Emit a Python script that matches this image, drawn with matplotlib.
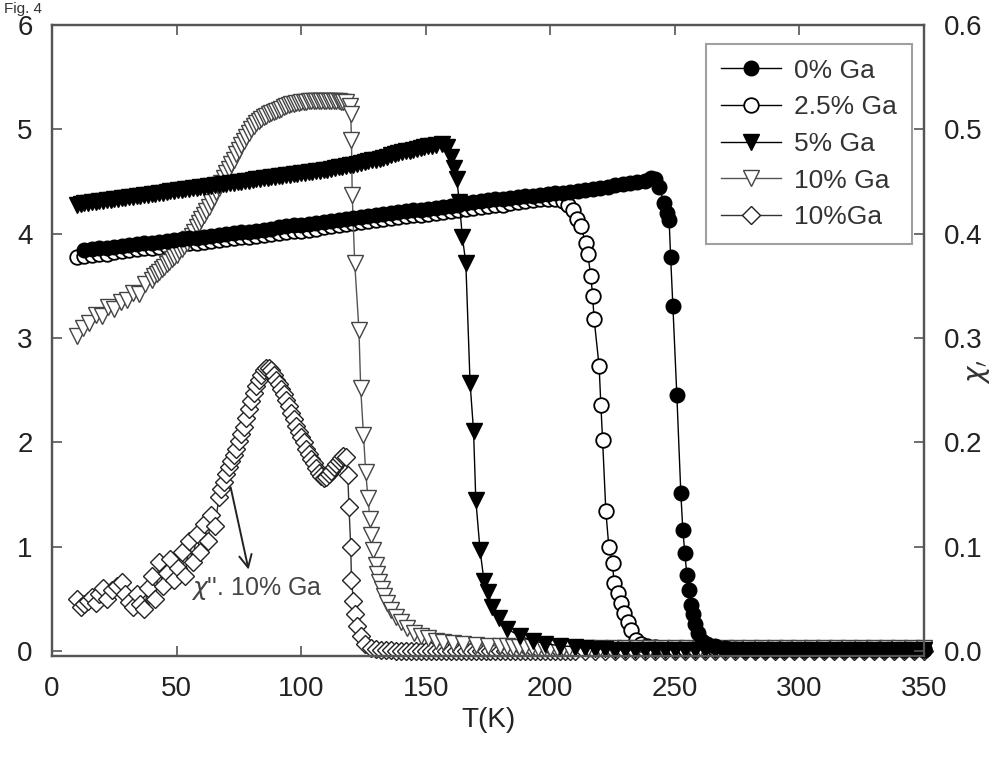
import matplotlib
matplotlib.use("Agg")
import matplotlib.pyplot as plt

plt.rcParams['font.family'] = ['Liberation Sans', 'DejaVu Sans']
plt.rcParams['mathtext.fontset'] = 'dejavusans'

# ---------------- data ----------------
labels = ["0% Ga", "2.5% Ga", "5% Ga", "10% Ga", "10%Ga"]
x_ticks = [0, 50, 100, 150, 200, 250, 300, 350]
y_ticks = [0, 1, 2, 3, 4, 5, 6]
y2_ticks = [0.0, 0.1, 0.2, 0.3, 0.4, 0.5, 0.6]

# 0% Ga
t_0 = [13, 16, 19, 22, 25, 28, 31, 34, 37, 40,
       43, 46, 49, 52, 55, 58, 61, 64, 67, 70,
       73, 76, 79, 82, 85, 88, 91, 94, 97, 100,
       103, 106, 109, 112, 115, 118, 121, 124, 127, 130,
       133, 136, 139, 142, 145, 148, 151, 154, 157, 160,
       163, 166, 169, 172, 175, 178, 181, 184, 187, 190,
       193, 196, 199, 202, 205, 208, 211, 214, 217, 220,
       223, 226, 229, 232, 235, 238,
       240.4, 242, 243.7, 245.7, 246.8, 247.7, 248.3, 249.2, 250.8, 252.4,
       253.2, 254, 254.8, 255.6, 256.4, 257.2, 258, 259.2, 261, 263,
       266, 270, 274, 278, 282, 286, 290, 294, 298, 302,
       306, 310, 314, 318, 322, 326, 330, 334, 338, 342,
       346, 350]
chi_0 = [3.84, 3.85, 3.86, 3.86, 3.87, 3.88, 3.89, 3.90, 3.91, 3.91,
         3.92, 3.93, 3.94, 3.95, 3.96, 3.96, 3.97, 3.98, 3.99, 4.00,
         4.01, 4.02, 4.02, 4.03, 4.04, 4.05, 4.06, 4.07, 4.08, 4.08,
         4.09, 4.10, 4.11, 4.12, 4.13, 4.14, 4.15, 4.16, 4.17, 4.18,
         4.19, 4.20, 4.21, 4.22, 4.23, 4.23, 4.24, 4.25, 4.26, 4.27,
         4.28, 4.29, 4.30, 4.31, 4.32, 4.33, 4.33, 4.34, 4.35, 4.36,
         4.36, 4.37, 4.38, 4.39, 4.39, 4.40, 4.41, 4.42, 4.43, 4.44,
         4.45, 4.47, 4.48, 4.49, 4.50, 4.51,
         4.53, 4.52, 4.45, 4.29, 4.20, 4.13, 3.78, 3.31, 2.45, 1.51,
         1.16, 0.94, 0.73, 0.58, 0.44, 0.35, 0.26, 0.17, 0.10, 0.07,
         0.05, 0.03, 0.02, 0.01, 0.01, 0.01, 0.01, 0.01, 0.01, 0.01,
         0.01, 0.01, 0.01, 0.01, 0.01, 0.01, 0.01, 0.01, 0.01, 0.01,
         0.01, 0.01]

# 2.5% Ga
t_25 = [10, 13, 16, 19, 22, 25, 28, 31, 34, 37,
        40, 43, 46, 49, 52, 55, 58, 61, 64, 67,
        70, 73, 76, 79, 82, 85, 88, 91, 94, 97,
        100, 103, 106, 109, 112, 115, 118, 121, 124, 127,
        130, 133, 136, 139, 142, 145, 148, 151, 154, 157,
        160, 163, 166, 169, 172, 175, 178, 181, 184, 187,
        190, 193, 196, 199,
        202, 205, 207, 209, 210.7, 212.2, 214.3, 215, 216.3, 217,
        217.6, 219.6, 220.3, 221, 222.3, 223.5, 225, 225.6, 227, 228.3,
        229.5, 231, 232.3, 234.3, 236.5, 239,
        242, 246, 250, 254, 258, 262, 266, 270, 274, 278,
        282, 286, 290, 294, 298, 302, 306, 310, 314, 318,
        322, 326, 330, 334, 338, 342, 346, 350]
chi_25 = [3.78, 3.79, 3.80, 3.81, 3.81, 3.82, 3.83, 3.84, 3.85, 3.86,
          3.86, 3.87, 3.88, 3.89, 3.90, 3.91, 3.91, 3.92, 3.93, 3.94,
          3.95, 3.96, 3.97, 3.97, 3.98, 3.99, 4.00, 4.01, 4.02, 4.03,
          4.03, 4.04, 4.05, 4.06, 4.07, 4.08, 4.09, 4.10, 4.11, 4.12,
          4.13, 4.14, 4.15, 4.16, 4.17, 4.18, 4.18, 4.19, 4.20, 4.21,
          4.22, 4.23, 4.24, 4.25, 4.26, 4.27, 4.28, 4.28, 4.29, 4.30,
          4.31, 4.32, 4.33, 4.33,
          4.33, 4.31, 4.28, 4.23, 4.14, 4.07, 3.91, 3.81, 3.59, 3.40,
          3.18, 2.73, 2.36, 2.02, 1.34, 1.00, 0.84, 0.65, 0.56, 0.46,
          0.36, 0.28, 0.20, 0.11, 0.07, 0.05,
          0.04, 0.03, 0.02, 0.02, 0.02, 0.02, 0.02, 0.02, 0.02, 0.02,
          0.02, 0.02, 0.02, 0.02, 0.02, 0.02, 0.02, 0.02, 0.02, 0.02,
          0.02, 0.02, 0.02, 0.02, 0.02, 0.02, 0.02, 0.02]

# 5% Ga
t_5 = [10, 11.5, 13, 14.5, 16, 17.5, 19, 20.5, 22, 23.5,
       25, 26.5, 28, 29.5, 31, 32.5, 34, 35.5, 37, 38.5,
       40, 41.5, 43, 44.5, 46, 47.5, 49, 50.5, 52, 53.5,
       55, 56.5, 58, 59.5, 61, 62.5, 64, 65.5, 67, 68.5,
       70, 71.5, 73, 74.5, 76, 77.5, 79, 80.5, 82, 83.5,
       85, 86.5, 88, 89.5, 91, 92.5, 94, 95.5, 97, 98.5,
       100, 101.5, 103, 104.5, 106, 107.5, 109, 110.5, 112, 113.5,
       115, 116.5, 118, 119.5, 121, 122.5, 124, 125.5, 127, 128.5,
       130, 131.5, 133, 134.5, 136, 137.5, 139, 140.5, 142, 143.5,
       145, 146.5, 148, 149.5, 151, 152.5, 154,
       156.5, 158.5, 160, 161.2, 162.5, 163.5, 164.7, 166.1, 167.8, 169.2,
       170.1, 171.8, 173.4, 174.8, 176.8, 179.4, 182.8, 188, 193, 198,
       204,
       210, 214, 218, 222, 226, 230, 234, 238, 242, 246,
       250, 254, 258, 262, 266, 270, 274, 278, 282, 286,
       290, 294, 298, 302, 306, 310, 314, 318, 322, 326,
       330, 334, 338, 342, 346, 350]
chi_5 = [4.280, 4.285, 4.290, 4.295, 4.300, 4.305, 4.310, 4.315, 4.320, 4.325,
         4.330, 4.335, 4.340, 4.345, 4.350, 4.355, 4.360, 4.365, 4.370, 4.375,
         4.380, 4.385, 4.390, 4.395, 4.400, 4.405, 4.410, 4.415, 4.420, 4.425,
         4.430, 4.435, 4.440, 4.445, 4.450, 4.455, 4.460, 4.465, 4.470, 4.475,
         4.480, 4.485, 4.490, 4.495, 4.500, 4.505, 4.510, 4.515, 4.520, 4.525,
         4.530, 4.535, 4.540, 4.545, 4.550, 4.555, 4.560, 4.565, 4.570, 4.575,
         4.580, 4.585, 4.590, 4.595, 4.600, 4.605, 4.610, 4.615, 4.620, 4.627,
         4.635, 4.642, 4.650, 4.657, 4.663, 4.670, 4.680, 4.687, 4.695, 4.702,
         4.710, 4.720, 4.730, 4.740, 4.750, 4.760, 4.770, 4.780, 4.790, 4.795,
         4.800, 4.810, 4.820, 4.830, 4.840, 4.845, 4.850,
         4.86, 4.83, 4.74, 4.63, 4.52, 4.30, 3.97, 3.72, 2.57, 2.11,
         1.45, 0.97, 0.67, 0.57, 0.42, 0.32, 0.21, 0.14, 0.10, 0.07,
         0.05,
         0.04, 0.03, 0.02, 0.02, 0.01, 0.01, 0.01, 0.01, 0.01, 0.01,
         0.01, 0.01, 0.01, 0.01, 0.01, 0.01, 0.01, 0.01, 0.01, 0.01,
         0.01, 0.01, 0.01, 0.01, 0.01, 0.01, 0.01, 0.01, 0.01, 0.01,
         0.01, 0.01, 0.01, 0.01, 0.01, 0.01]

# 10% Ga (chi')
t_10 = [10, 12.5, 15, 17.5, 20, 22.5, 25, 27.5, 30, 32.5,
        35, 37.5,
        40, 41, 42, 43, 44, 45, 46, 47, 48, 49,
        50, 51, 52, 53, 54, 55, 56, 57, 58, 59,
        60, 61, 62, 63, 64, 65, 66, 67, 68, 69,
        70, 71, 72, 73, 74, 75, 76, 77, 78,
        79, 80, 81, 82, 83, 84, 85, 86, 87, 88,
        89, 90, 91, 92, 93, 94, 95, 96, 97, 98,
        99, 100, 101, 102, 103, 104, 105, 106, 107, 108,
        109, 110, 111, 112, 113, 114, 115, 116, 117, 118,
        119.5, 119.9, 120.2, 120.5, 121.5, 123.2, 123.9, 125, 125.9, 126.8,
        127.6, 128.2, 129, 129.9, 130.6, 131.4, 132.3, 133.3, 134.5, 136,
        138, 140, 142.5, 145.3, 148, 151, 154, 157, 161, 165,
        170, 175, 180,
        182.5, 185, 187.5, 190, 192.5, 195, 197.5, 200, 202.5, 205,
        207.5, 210,
        215, 220, 225, 230, 235, 240, 245, 250, 255, 260,
        265, 270, 275, 280, 285, 290, 295, 300, 305, 310,
        315, 320, 325, 330, 335, 340, 345, 350]
chi_10 = [3.02, 3.10, 3.14, 3.22, 3.21, 3.30, 3.28, 3.35, 3.36, 3.43,
          3.42, 3.52,
          3.56, 3.59, 3.61, 3.63, 3.66, 3.68, 3.71, 3.73, 3.76, 3.78,
          3.80, 3.83, 3.85, 3.88, 3.91, 3.95, 3.98, 4.02, 4.06, 4.10,
          4.14, 4.18, 4.22, 4.26, 4.30, 4.35, 4.40, 4.44, 4.49, 4.53,
          4.58, 4.62, 4.67, 4.71, 4.76, 4.80, 4.85, 4.89, 4.93,
          4.97, 5.00, 5.03, 5.06, 5.08, 5.10, 5.12, 5.13, 5.15, 5.16,
          5.17, 5.18, 5.19, 5.20, 5.21, 5.22, 5.23, 5.24, 5.24, 5.25,
          5.25, 5.26, 5.26, 5.26, 5.27, 5.27, 5.27, 5.27, 5.27, 5.27,
          5.27, 5.27, 5.27, 5.27, 5.27, 5.27, 5.27, 5.26, 5.26, 5.26,
          5.22, 5.15, 4.90, 4.37, 3.72, 3.08, 2.52, 2.07, 1.72, 1.47,
          1.27, 1.11, 0.97, 0.82, 0.74, 0.66, 0.59, 0.53, 0.46, 0.39,
          0.33, 0.28, 0.22, 0.17, 0.14, 0.12, 0.10, 0.09, 0.08, 0.07,
          0.06, 0.05, 0.05,
          0.05, 0.04, 0.04, 0.04, 0.04, 0.03, 0.03, 0.03, 0.03, 0.03,
          0.03, 0.03,
          0.03, 0.03, 0.03, 0.03, 0.03, 0.03, 0.03, 0.03, 0.03, 0.03,
          0.03, 0.03, 0.03, 0.03, 0.03, 0.03, 0.03, 0.03, 0.03, 0.03,
          0.03, 0.03, 0.03, 0.03, 0.03, 0.03, 0.03, 0.03]

# 10%Ga (chi'')
t_d = [10, 11.5, 13, 14.5, 16, 17.5, 19, 20.5, 22, 24,
       26, 28, 29.5, 31, 32.5, 34, 35.5, 37, 38.5, 40,
       41.5, 43, 44.5, 46, 47.5, 49, 50.5, 52, 53.5, 55,
       56.5, 58, 59.5, 61, 62.5, 64, 65.5,
       67, 68, 69, 70, 71, 72, 73, 74, 75, 76,
       77, 78, 79, 80, 81, 82, 83, 84, 85, 86,
       87, 88, 89, 90, 91, 92, 93, 94, 95, 96,
       97, 98, 99, 100, 101, 102, 103, 104, 105, 106,
       107, 108, 109, 110, 111, 112, 113, 114, 115, 116,
       117, 118,
       118.7, 119.2, 119.9, 120.2, 121, 121.5, 122.3, 123.9, 125.5, 128,
       130, 132, 134, 136, 138, 140, 142, 144, 146, 148,
       150, 152, 154, 156, 158, 160, 162, 164, 166, 168,
       170, 172, 174, 176, 178, 180, 182, 184, 186, 188,
       190, 192, 194, 196, 198, 200, 202, 204, 206, 208,
       210,
       214, 218, 222, 226, 230, 234, 238, 242, 246, 250,
       254, 258, 262, 266, 270, 274, 278, 282, 286, 290,
       294, 298, 302, 306, 310, 314, 318, 322, 326, 330,
       334, 338, 342, 346, 350]
chi_d = [0.50, 0.42, 0.45, 0.48, 0.52, 0.46, 0.55, 0.60, 0.50, 0.58,
         0.62, 0.66, 0.55, 0.47, 0.42, 0.55, 0.45, 0.40, 0.60, 0.72,
         0.50, 0.85, 0.62, 0.75, 0.88, 0.68, 0.80, 0.95, 0.72, 1.05,
         0.85, 1.12, 0.95, 1.22, 1.05, 1.30, 1.20,
         1.48, 1.55, 1.62, 1.70, 1.76, 1.82, 1.88, 1.94, 2.01, 2.08,
         2.15, 2.23, 2.32, 2.40, 2.47, 2.54, 2.60, 2.65, 2.69, 2.71,
         2.71, 2.69, 2.65, 2.60, 2.56, 2.51, 2.46, 2.41, 2.35, 2.28,
         2.22, 2.16, 2.10, 2.05, 2.00, 1.94, 1.89, 1.84, 1.80, 1.75,
         1.71, 1.68, 1.66, 1.67, 1.70, 1.73, 1.76, 1.79, 1.82, 1.85,
         1.87, 1.86,
         1.69, 1.38, 1.00, 0.68, 0.48, 0.35, 0.24, 0.14, 0.07, 0.03,
         0.02, 0.01, 0.01, 0.01, 0.00, 0.00, 0.00, 0.00, 0.00, 0.00,
         0.00, 0.00, 0.00, 0.00, 0.00, 0.00, 0.00, 0.00, 0.00, 0.00,
         0.00, 0.00, 0.00, 0.00, 0.00, 0.00, 0.00, 0.00, 0.00, 0.00,
         0.00, 0.00, 0.00, 0.00, 0.00, 0.00, 0.00, 0.00, 0.00, 0.00,
         0.00,
         0.00, 0.00, 0.00, 0.00, 0.00, 0.00, 0.00, 0.00, 0.00, 0.00,
         0.00, 0.00, 0.00, 0.00, 0.00, 0.00, 0.00, 0.00, 0.00, 0.00,
         0.00, 0.00, 0.00, 0.00, 0.00, 0.00, 0.00, 0.00, 0.00, 0.00,
         0.00, 0.00, 0.00, 0.00, 0.00]

# ---------------- figure ----------------
fig = plt.figure(figsize=(10, 7.72), dpi=100)
ax = fig.add_axes([0.052, 0.150, 0.872, 0.8175])

spine_c = '#555555'
common = dict(lw=1.0, clip_on=False)

hd, = ax.plot(t_d, chi_d, color='#333333', marker='D', ms=9, mfc='white',
              mec='#222222', mew=1.0, zorder=2, **common)
h25, = ax.plot(t_25, chi_25, color='black', marker='o', ms=10.5, mfc='white',
               mec='black', mew=1.3, zorder=3, **common)
h10, = ax.plot(t_10, chi_10, color='#555555', marker='v', ms=11, mfc='white',
               mec='#444444', mew=1.0, zorder=4, **common)
h0, = ax.plot(t_0, chi_0, color='black', marker='o', ms=10.5, mfc='black',
              mec='black', mew=1.0, zorder=5, **common)
h5, = ax.plot(t_5, chi_5, color='black', marker='v', ms=11.5, mfc='black',
              mec='black', mew=1.0, zorder=6, **common)

ax.set_xlim(0, 350)
ax.set_ylim(-0.05, 6)
ax.set_xticks(x_ticks)
ax.set_yticks(y_ticks)
ax.set_xticklabels([str(v) for v in x_ticks])
ax.set_yticklabels([str(v) for v in y_ticks])
ax.tick_params(axis='both', which='both', direction='in', length=7, width=1.2,
               color=spine_c, labelsize=20, labelcolor='#222222', top=True)
ax.tick_params(axis='y', pad=14)
ax.tick_params(axis='x', pad=14)
for s in ax.spines.values():
    s.set_color(spine_c)
    s.set_linewidth(1.6)

ax2 = ax.twinx()
ax2.set_ylim(-0.005, 0.6)
ax2.set_yticks(y2_ticks)
ax2.set_yticklabels(["%.1f" % v for v in y2_ticks])
ax2.tick_params(axis='y', direction='in', length=7, width=1.2, color=spine_c,
                labelsize=20, labelcolor='#222222', pad=14)
for s in ax2.spines.values():
    s.set_color(spine_c)
    s.set_linewidth(1.6)

ax.set_xlabel("T(K)", fontsize=20, color='#222222', labelpad=4)
fig.text(0.979, 1 - 372 / 772, r"$\chi_{\prime}$", rotation=90, fontsize=20,
         ha='center', va='center', color='#333333')

leg = ax.legend([h0, h25, h5, h10, hd], labels, loc='upper right',
                bbox_to_anchor=(0.986, 0.970), borderaxespad=0, fontsize=19,
                frameon=True, fancybox=False, edgecolor='#888888',
                handlelength=2.3, handletextpad=0.5, labelspacing=0.48,
                borderpad=0.55, labelcolor='#333333')
leg.get_frame().set_linewidth(1.5)
leg.set_zorder(10)

ax.annotate("", xy=(78.9, 0.78), xytext=(71.7, 1.57),
            arrowprops=dict(arrowstyle='->,head_length=0.9,head_width=0.45',
                            lw=1.4, color='#222222', shrinkA=0, shrinkB=0))
ax.text(55.6, 0.60, r"$\chi$''. 10% Ga", fontsize=18, color='#444444',
        ha='left', va='center')

fig.text(0.004, 1 - 2 / 772, "Fig. 4", fontsize=11, ha='left', va='top',
         color='#333333')

fig.savefig("out.png", dpi=100)
